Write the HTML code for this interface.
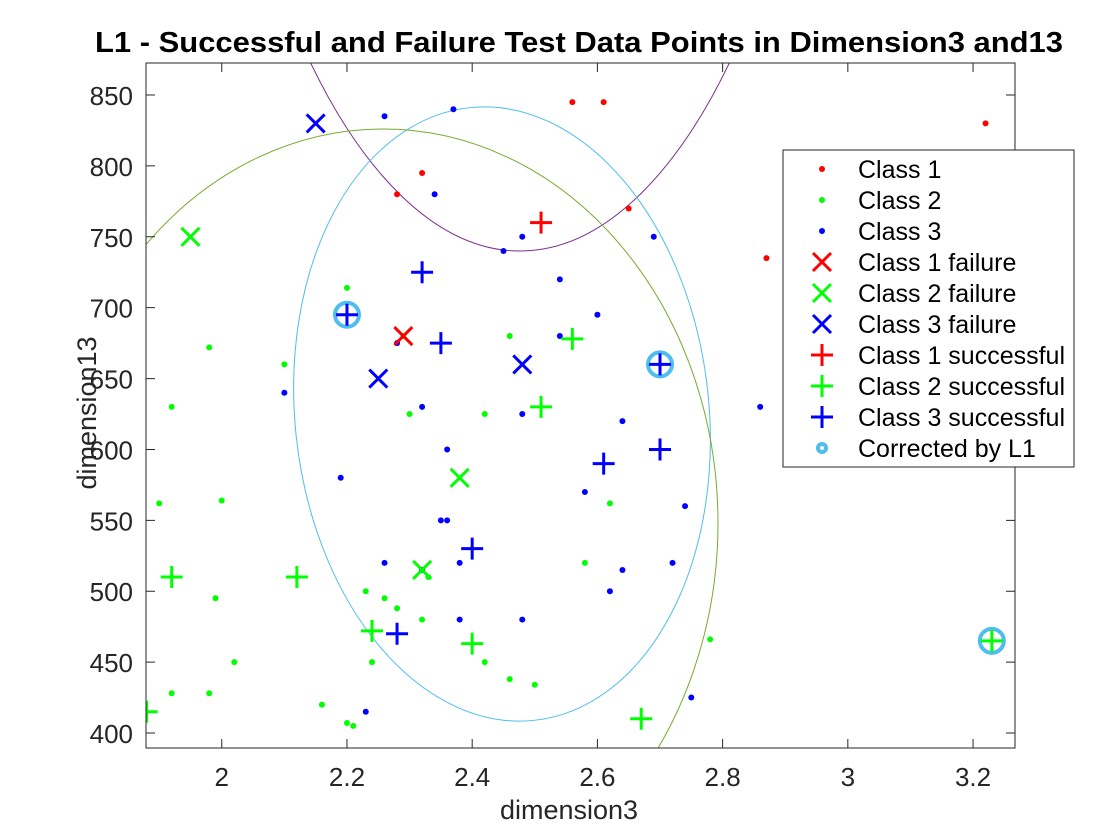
<!DOCTYPE html>
<html><head><meta charset="utf-8"><style>
html,body{margin:0;padding:0;background:#fff;overflow:hidden;width:1120px;height:840px;}
svg{display:block;font-family:"Liberation Sans",sans-serif;}
</style></head><body>
<svg id="chart" width="1120" height="840" viewBox="0 0 1120 840">
<defs><clipPath id="clip"><rect x="146" y="63" width="869" height="685"/></clipPath></defs>
<rect x="0" y="0" width="1120" height="840" fill="#fff"/>
<g id="ell" clip-path="url(#clip)">
<ellipse cx="520" cy="-549" rx="325" ry="800" fill="none" stroke="#7e2f8e" stroke-width="1"/>
<ellipse cx="502" cy="414" rx="207" ry="308" transform="rotate(-6 502 414)" fill="none" stroke="#4dbeee" stroke-width="1"/>
<ellipse cx="383" cy="523" rx="335" ry="394" fill="none" stroke="#77ac30" stroke-width="1"/>
</g>
<g id="marks" clip-path="url(#clip)"></g>
<rect x="146" y="63" width="869" height="685" fill="none" stroke="#262626" stroke-width="1"/>
<g id="axes"></g>
<text x="95" y="52" textLength="968" lengthAdjust="spacingAndGlyphs" font-size="29" font-weight="bold" fill="#000">L1 - Successful and Failure Test Data Points in Dimension3 and13</text>
<text x="569" y="819" text-anchor="middle" font-size="27" fill="#262626">dimension3</text>
<text x="0" y="0" transform="translate(96 413) rotate(-90)" text-anchor="middle" font-size="27" fill="#262626">dimension13</text>
<g id="legend"></g>
</svg>
<script>
const xTicks=[2,2.2,2.4,2.6,2.8,3,3.2];
const yTicks=[400,450,500,550,600,650,700,750,800,850];
const c1x=[2.28,2.32,2.56,2.61,2.65,2.87,3.22];
const c1y=[780,795,845,845,770,735,830];
const c2x=[2.2,1.98,2.1,1.92,1.9,2.0,1.99,2.02,1.92,1.98,2.16,2.2,2.21,2.24,2.23,2.26,2.28,2.32,2.3,2.42,2.46,2.42,2.46,2.5,2.58,2.62,2.78,2.33,2.29];
const c2y=[714,672,660,630,562,564,495,450,428,428,420,407,405,450,500,495,488,480,625,625,680,450,438,434,520,562,466,510,680];
const c3x=[2.26,2.37,2.34,2.45,2.48,2.54,2.6,2.69,2.54,2.28,2.1,2.32,2.48,2.64,2.36,2.19,2.35,2.36,2.38,2.26,2.32,2.58,2.74,2.72,2.64,2.62,2.38,2.48,2.23,2.75,2.86];
const c3y=[835,840,780,740,750,720,695,750,680,675,640,630,625,620,600,580,550,550,520,520,515,570,560,520,515,500,480,480,415,425,630];
const f1x=[2.29], f1y=[680];
const f2x=[1.95,2.38,2.32], f2y=[750,580,515];
const f3x=[2.15,2.25,2.48], f3y=[830,650,660];
const s1x=[2.51], s1y=[760];
const s2x=[2.56,2.51,1.92,2.12,2.24,2.4,1.88,2.67,3.23], s2y=[678,630,510,510,472,463,415,410,465];
const s3x=[2.32,2.2,2.35,2.7,2.7,2.61,2.4,2.28], s3y=[725,695,675,660,600,590,530,470];
const corrX=[2.2,2.7,3.23], corrY=[695,660,465];

const X0=146,X1=1015,Y0=63,Y1=748,xmin=1.879,xmax=3.267,ymin=389.4,ymax=872.6;
const sx=v=>X0+(v-xmin)/(xmax-xmin)*(X1-X0);
const sy=v=>Y1-(v-ymin)/(ymax-ymin)*(Y1-Y0);
const NS="http://www.w3.org/2000/svg";
function mk(tag,attrs,parent){const e=document.createElementNS(NS,tag);for(const k in attrs)e.setAttribute(k,attrs[k]);parent.appendChild(e);return e;}
function dot(g,x,y,col){return mk('circle',{cx:x,cy:y,r:3,fill:col},g);}
function cross(g,x,y,col){return mk('path',{d:`M${x-9} ${y-9}L${x+9} ${y+9}M${x-9} ${y+9}L${x+9} ${y-9}`,stroke:col,'stroke-width':3,fill:'none'},g);}
function plus(g,x,y,col){return mk('path',{d:`M${x-11} ${y}L${x+11} ${y}M${x} ${y-11}L${x} ${y+11}`,stroke:col,'stroke-width':3,fill:'none'},g);}
function ring(g,x,y,r){return mk('circle',{cx:x,cy:y,r:r,fill:'none',stroke:'#4dbeee','stroke-width':4},g);}

const marks=document.getElementById('marks');
c1x.forEach((v,i)=>{const e=dot(marks,sx(v),sy(c1y[i]),'#f00');

});
c2x.forEach((v,i)=>{const e=dot(marks,sx(v),sy(c2y[i]),'#0f0');

});
c3x.forEach((v,i)=>{const e=dot(marks,sx(v),sy(c3y[i]),'#00f');

});
corrX.forEach((v,i)=>{const e=ring(marks,sx(v),sy(corrY[i]),12);

});
f1x.forEach((v,i)=>{const e=cross(marks,sx(v),sy(f1y[i]),'#f00');

});
f2x.forEach((v,i)=>{const e=cross(marks,sx(v),sy(f2y[i]),'#0f0');

});
f3x.forEach((v,i)=>{const e=cross(marks,sx(v),sy(f3y[i]),'#00f');

});
s1x.forEach((v,i)=>{const e=plus(marks,sx(v),sy(s1y[i]),'#f00');

});
s2x.forEach((v,i)=>{const e=plus(marks,sx(v),sy(s2y[i]),'#0f0');

});
s3x.forEach((v,i)=>{const e=plus(marks,sx(v),sy(s3y[i]),'#00f');

});

const axes=document.getElementById('axes');
xTicks.forEach(v=>{const x=sx(v);
const t=mk('path',{d:`M${x} ${Y1}L${x} ${Y1-9}M${x} ${Y0}L${x} ${Y0+9}`,stroke:'#262626','stroke-width':1},axes);


const l=mk('text',{x:x,y:786,'text-anchor':'middle','font-size':26,fill:'#262626'},axes);l.textContent=String(v);

});
yTicks.forEach(v=>{const y=sy(v);
const t=mk('path',{d:`M${X0} ${y}L${X0+9} ${y}M${X1} ${y}L${X1-9} ${y}`,stroke:'#262626','stroke-width':1},axes);


const l=mk('text',{x:133,y:y+10,'text-anchor':'end','font-size':26,fill:'#262626'},axes);l.textContent=String(v);

});

const leg=document.getElementById('legend');
const lb=mk('rect',{x:783,y:150,width:291,height:317,fill:'#fff',stroke:'#262626','stroke-width':1},leg);


const labels=['Class 1','Class 2','Class 3','Class 1 failure','Class 2 failure','Class 3 failure','Class 1 successful','Class 2 successful','Class 3 successful','Corrected by L1'];
const cols=['#f00','#0f0','#00f','#f00','#0f0','#00f','#f00','#0f0','#00f'];
labels.forEach((s,i)=>{const y=169+i*31;const mx=822;let m;
if(i<3)m=dot(leg,mx,y,cols[i]);else if(i<6)m=cross(leg,mx,y,cols[i]);else if(i<9)m=plus(leg,mx,y,cols[i]);else m=ring(leg,mx,y,4);


const t=mk('text',{x:858,y:y+9,'font-size':25,fill:'#000'},leg);t.textContent=s;

});
</script>
</body></html>
